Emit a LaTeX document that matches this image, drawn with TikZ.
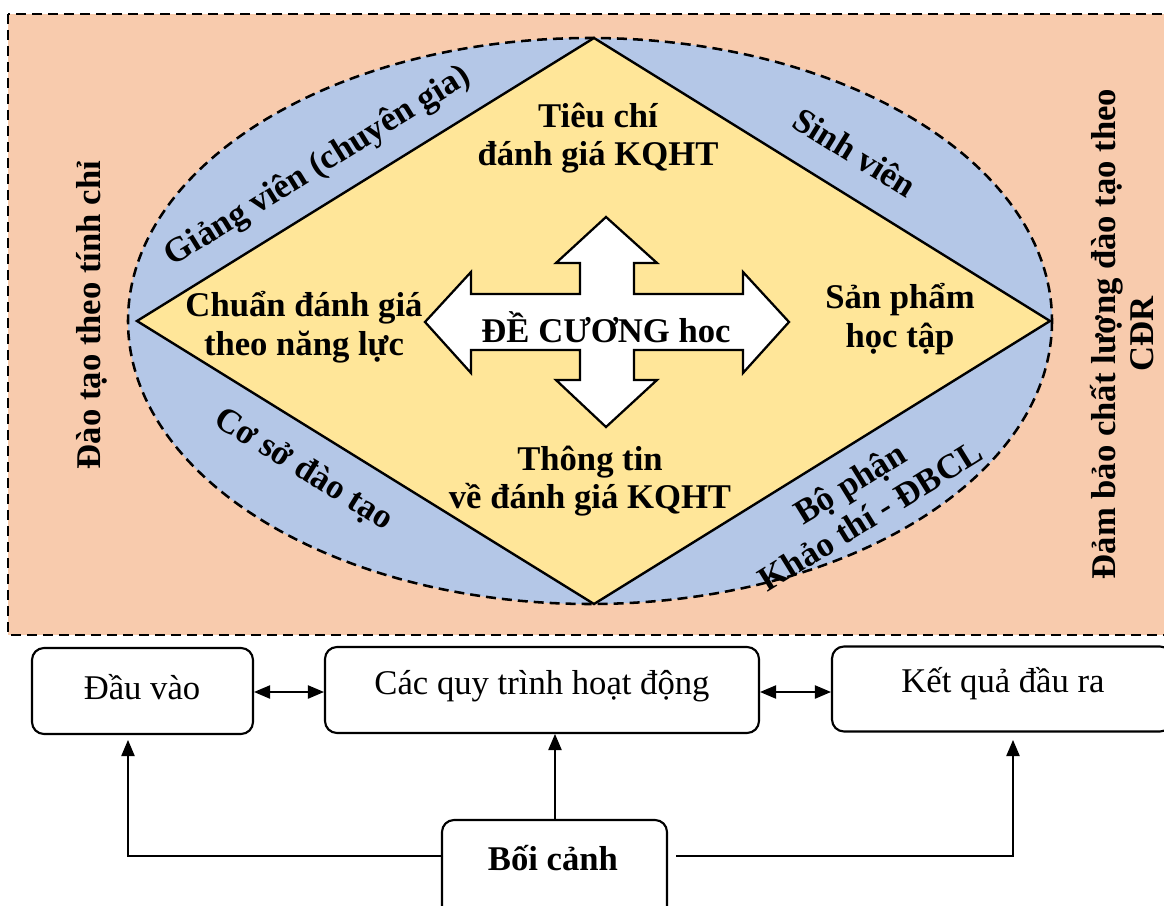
\documentclass[tikz,border=0pt]{standalone}
\usepackage{fontspec}
\setmainfont{Liberation Serif}
\usetikzlibrary{arrows.meta,calc}
\definecolor{peach}{HTML}{F8CBAD}
\definecolor{lightblue}{HTML}{B4C7E7}
\definecolor{lightgold}{HTML}{FFE699}
\tikzset{
  bigtxt/.style={font=\bfseries\fontsize{26}{29}\selectfont, align=center, inner sep=0pt},
  ringtxt/.style={bigtxt},
  boxtxt/.style={font=\fontsize{26}{29}\selectfont, inner sep=0pt},
  flowbox/.style={draw, line width=1.6pt, rounded corners=9pt, fill=white, inner sep=0pt},
  link/.style={line width=0.8pt, -{Triangle[length=12pt,width=10pt]}},
  biglink/.style={line width=0.8pt, {Triangle[length=12pt,width=10pt]}-{Triangle[length=12pt,width=10pt]}},
  dashframe/.style={line width=1.9pt, dash pattern=on 7.5pt off 4.5pt}
}
\begin{document}
\begin{tikzpicture}[x=0.75pt,y=-0.75pt]
\useasboundingbox (0,0) rectangle (1164,906);
\clip (0,0) rectangle (1164,906);

% outer frame
\draw[dashframe, fill=peach] (8,14) rectangle (1180,635);

% ellipse with diamond inside
\draw[dashframe, fill=lightblue] (590,321) ellipse [x radius=462, y radius=283];
\draw[line width=1.8pt, fill=lightgold, line join=miter]
  (594,38) -- (1050,321) -- (594,604) -- (137,321) -- cycle;

% four-way arrow in the middle
\draw[line width=1.7pt, fill=white, line join=miter]
  (606,217) -- (657,263) -- (634,263) -- (634,294) -- (743,294) -- (743,272)
  -- (789,322) -- (743,373) -- (743,350) -- (634,350) -- (634,380) -- (657,380)
  -- (606,427) -- (556,380) -- (580,380) -- (580,350) -- (471,350) -- (471,373)
  -- (425,322) -- (471,272) -- (471,294) -- (580,294) -- (580,263) -- (556,263) -- cycle;
\node[bigtxt] (decuong) at (606,327) {ĐỀ CƯƠNG hoc};

% labels inside the diamond
\node[bigtxt] (tieuchi) at (598,138) {Tiêu chí\\đánh giá KQHT};
\node[bigtxt] (chuan) at (304,327) {Chuẩn đánh giá\\theo năng lực};
\node[bigtxt] (sanpham) at (900,319) {Sản phẩm\\học tập};
\node[bigtxt] (thongtin) at (590,481) {Thông tin\\về đánh giá KQHT};

% labels in the ring
\node[ringtxt, rotate=31.7] (giangvien) at (318,167) {Giảng viên (chuyên gia)};
\node[ringtxt, rotate=-31.7] (sinhvien) at (855,152) {Sinh viên};
\node[ringtxt, rotate=-31.7] (coso) at (303,470) {Cơ sở đào tạo};
\node[ringtxt, rotate=31.7] (bophan) at (860,499) {Bộ phận\\Khảo thí - ĐBCL};

% side labels
\node[bigtxt, rotate=90] (daotao) at (92,315) {Đào tạo theo tính chỉ};
\node[bigtxt, rotate=90] (dambao) at (1122,334) {Đảm bảo chất lượng đào tạo theo\\CĐR};

% flow boxes
\node[flowbox, minimum width=221*0.75pt, minimum height=86*0.75pt] (dauvao) at (142.5,691) {};
\node[boxtxt] (dauvaotxt) at (142,687) {Đầu vào};
\node[flowbox, minimum width=434*0.75pt, minimum height=86*0.75pt] (quytrinh) at (542,690) {};
\node[boxtxt] (quytrinhtxt) at (542,686) {Các quy trình hoạt động};
\node[flowbox, minimum width=340*0.75pt, minimum height=85*0.75pt] (ketqua) at (1002,689) {};
\node[boxtxt] (ketquatxt) at (1003,684) {Kết quả đầu ra};
\node[flowbox, minimum width=225*0.75pt, minimum height=100*0.75pt] (boicanh) at (554.5,870) {};
\node[bigtxt] (boicanhtxt) at (553,858) {Bối cảnh};

\coordinate (dvin) at (128,740);
\coordinate (kqin) at (1013,740);
\coordinate (bcleft) at (443,856);
\coordinate (bcright) at (676,856);

% connectors
\draw[biglink] (dauvao.east |- 0,692) -- (quytrinh.west |- 0,692);
\draw[biglink] (quytrinh.east |- 0,692) -- (ketqua.west |- 0,692);
\draw[link] (bcleft) -| (dvin);
\draw[link] (boicanh.north -| 555,0) -- (555,734);
\draw[link] (bcright) -| (kqin);
\end{tikzpicture}
\end{document}
